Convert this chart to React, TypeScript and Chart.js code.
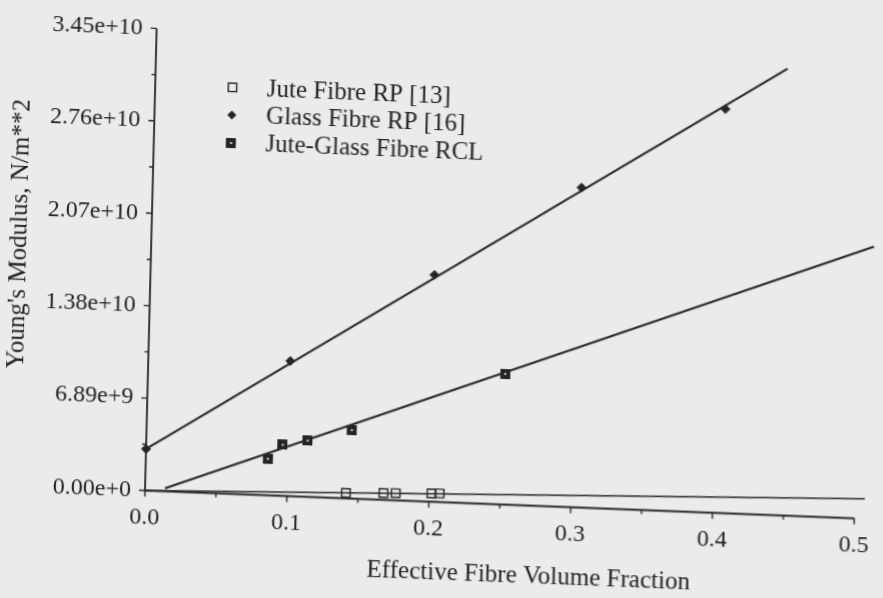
import React, { useEffect, useRef } from "react";
import { Chart, registerables } from "chart.js";

Chart.register(...registerables);

// ---- data ----
const juteRpX = [0.1415, 0.168, 0.1766, 0.2018, 0.2075];
const juteRpY = [4.15e8, 5.0e8, 5.35e8, 6.15e8, 6.4e8];

const glassRpX = [0, 0.1, 0.2, 0.302, 0.402];
const glassRpY = [3.1e9, 1.007e10, 1.691e10, 2.384e10, 3.011e10];

const rclX = [0.0859, 0.0962, 0.1137, 0.1446, 0.2516];
const rclY = [2.72e9, 3.81e9, 4.19e9, 5.11e9, 9.74e9];

const juteFitX = [0, 0.507];
const juteFitY = [0, 1.49e9];
const glassFitX = [0, 0.445];
const glassFitY = [3.1e9, 3.33e10];
const rclFitX = [0.014, 0.509];
const rclFitY = [2.2e8, 2.03e10];

const xTickValues = [0, 0.1, 0.2, 0.3, 0.4, 0.5];
const xTickLabels = ["0.0", "0.1", "0.2", "0.3", "0.4", "0.5"];
const xMinorValues = [0.05, 0.15, 0.25, 0.35, 0.45];
const yTickValues = [0, 6.89e9, 1.378e10, 2.067e10, 2.756e10, 3.445e10];
const yTickLabels = ["0.00e+0", "6.89e+9", "1.38e+10", "2.07e+10", "2.76e+10", "3.45e+10"];
const yMinorValues = [3.445e9, 1.0335e10, 1.7225e10, 2.4115e10, 3.1005e10];

const legendLabels = ["Jute Fibre RP [13]", "Glass Fibre RP [16]", "Jute-Glass Fibre RCL"];
const xTitle = "Effective Fibre Volume Fraction";
const yTitle = "Young's Modulus, N/m**2";

const INK = "#242424";
const TEXT = "#1f1f1f";
const BG = "#ebebeb";
const SERIF = '"Liberation Serif", "Times New Roman", serif';

function pts(xs: number[], ys: number[]) {
  return xs.map((x, i) => ({ x, y: ys[i] }));
}

function makeRclPoint(): HTMLCanvasElement {
  const c = document.createElement("canvas");
  c.width = 10;
  c.height = 10;
  const g = c.getContext("2d")!;
  g.fillStyle = INK;
  g.fillRect(0, 0, 10, 10);
  g.fillStyle = "#d8d8d8";
  g.fillRect(4, 4, 2, 2);
  return c;
}

export default function App() {
  const ref = useRef<HTMLCanvasElement | null>(null);

  useEffect(() => {
    if (!ref.current) return;
    const rclImg = makeRclPoint();

    const decoPlugin = {
      id: "deco",
      beforeDatasetsDraw(chart: any) {
        const { ctx, scales } = chart;
        const x = scales.x;
        const y = scales.y;
        const x0 = x.getPixelForValue(0);
        const x1 = x.getPixelForValue(xTickValues[xTickValues.length - 1]);
        const y0 = y.getPixelForValue(0);
        const y1 = y.getPixelForValue(yTickValues[yTickValues.length - 1]);
        ctx.save();
        ctx.strokeStyle = INK;
        ctx.lineWidth = 1.8;
        ctx.beginPath();
        ctx.moveTo(x0, y0);
        ctx.lineTo(x1, y0);
        ctx.moveTo(x0, y0);
        ctx.lineTo(x0, y1);
        ctx.stroke();
        ctx.lineWidth = 1.4;
        ctx.beginPath();
        xTickValues.forEach((v) => {
          const p = x.getPixelForValue(v);
          ctx.moveTo(p, y0);
          ctx.lineTo(p, y0 + 6);
        });
        xMinorValues.forEach((v) => {
          const p = x.getPixelForValue(v);
          ctx.moveTo(p, y0);
          ctx.lineTo(p, y0 + 4);
        });
        yTickValues.forEach((v) => {
          const p = y.getPixelForValue(v);
          ctx.moveTo(x0, p);
          ctx.lineTo(x0 - 6, p);
        });
        yMinorValues.forEach((v) => {
          const p = y.getPixelForValue(v);
          ctx.moveTo(x0, p);
          ctx.lineTo(x0 - 4, p);
        });
        ctx.stroke();
        ctx.restore();
      },
      afterDraw(chart: any) {
        const { ctx } = chart;
        ctx.save();
        ctx.fillStyle = TEXT;
        // x title
        ctx.font = `25px ${SERIF}`;
        ctx.textAlign = "center";
        ctx.textBaseline = "alphabetic";
        ctx.fillText(xTitle, 530, 568);
        // y title
        ctx.save();
        ctx.translate(13, 239);
        ctx.rotate(-Math.PI / 2);
        ctx.textAlign = "center";
        ctx.textBaseline = "middle";
        ctx.fillText(yTitle, 0, 0);
        ctx.restore();
        // legend
        const baselines = [91.6, 119.4, 147.2];
        const mx = 222.3;
        ctx.textAlign = "left";
        ctx.textBaseline = "alphabetic";
        legendLabels.forEach((lab, i) => {
          const by = baselines[i];
          const my = by - 7.3;
          if (i === 0) {
            ctx.strokeStyle = INK;
            ctx.lineWidth = 1.4;
            ctx.strokeRect(mx - 4.2, my - 4.2, 8.4, 8.4);
          } else if (i === 1) {
            ctx.fillStyle = INK;
            ctx.beginPath();
            ctx.moveTo(mx, my - 4.5);
            ctx.lineTo(mx + 4.5, my);
            ctx.lineTo(mx, my + 4.5);
            ctx.lineTo(mx - 4.5, my);
            ctx.closePath();
            ctx.fill();
          } else {
            ctx.drawImage(rclImg, mx - 5, my - 5, 10, 10);
          }
          ctx.fillStyle = TEXT;
          ctx.fillText(lab, 256.6, by);
        });
        ctx.restore();
      },
    };

    const chart = new Chart(ref.current, {
      type: "scatter",
      data: {
        datasets: [
          {
            label: legendLabels[0],
            data: pts(juteRpX, juteRpY),
            showLine: false,
            pointStyle: "rect",
            pointRadius: 6,
            borderColor: INK,
            borderWidth: 1.4,
            backgroundColor: "rgba(0,0,0,0)",
            clip: false,
          } as any,
          {
            label: legendLabels[1],
            data: pts(glassRpX, glassRpY),
            showLine: false,
            pointStyle: "rectRot",
            pointRadius: 4.5,
            borderColor: INK,
            borderWidth: 1,
            backgroundColor: INK,
            clip: false,
          } as any,
          {
            label: legendLabels[2],
            data: pts(rclX, rclY),
            showLine: false,
            pointStyle: rclImg,
            pointRadius: 5,
            borderColor: INK,
            backgroundColor: INK,
            clip: false,
          } as any,
          {
            label: "jute fit",
            data: pts(juteFitX, juteFitY),
            showLine: true,
            pointRadius: 0,
            borderColor: INK,
            borderWidth: 1.7,
            fill: false,
            clip: false,
          } as any,
          {
            label: "glass fit",
            data: pts(glassFitX, glassFitY),
            showLine: true,
            pointRadius: 0,
            borderColor: INK,
            borderWidth: 2,
            fill: false,
            clip: false,
          } as any,
          {
            label: "rcl fit",
            data: pts(rclFitX, rclFitY),
            showLine: true,
            pointRadius: 0,
            borderColor: INK,
            borderWidth: 2,
            fill: false,
            clip: false,
          } as any,
        ],
      },
      options: {
        animation: false,
        responsive: false,
        devicePixelRatio: 1,
        layout: { padding: { top: 14.5, right: 4.64, left: 0, bottom: 0 } },
        plugins: {
          legend: { display: false },
          tooltip: { enabled: false },
          title: { display: false },
        },
        scales: {
          x: {
            type: "linear",
            min: 0,
            max: 0.515,
            border: { display: false },
            grid: { display: false, drawTicks: false, tickLength: 0 },
            afterBuildTicks: (s: any) => {
              s.ticks = xTickValues.map((v) => ({ value: v }));
            },
            afterFit: (s: any) => {
              s.height = 107.5;
            },
            ticks: {
              padding: 13,
              color: TEXT,
              font: { family: SERIF, size: 24 },
              maxRotation: 0,
              autoSkip: false,
              callback: (_v: any, i: number) => xTickLabels[i],
            },
          },
          y: {
            type: "linear",
            min: 0,
            max: 3.445e10,
            border: { display: false },
            grid: { display: false, drawTicks: false, tickLength: 0 },
            afterBuildTicks: (s: any) => {
              s.ticks = yTickValues.map((v) => ({ value: v }));
            },
            afterFit: (s: any) => {
              s.width = 145;
            },
            ticks: {
              padding: 14,
              color: TEXT,
              font: { family: SERIF, size: 24 },
              autoSkip: false,
              callback: (_v: any, i: number) => yTickLabels[i],
            },
          },
        },
      } as any,
      plugins: [decoPlugin],
    });

    return () => chart.destroy();
  }, []);

  return (
    <div
      style={{
        position: "fixed",
        left: 0,
        top: 0,
        width: 883,
        height: 598,
        background: BG,
        overflow: "hidden",
      }}
    >
      <canvas
        ref={ref}
        width={883}
        height={598}
        style={{
          display: "block",
          width: 883,
          height: 598,
          transformOrigin: "145px 490.5px",
          transform: "matrix(1, 0.0393, -0.0252, 1, 0, 0)",
        }}
      />
    </div>
  );
}
